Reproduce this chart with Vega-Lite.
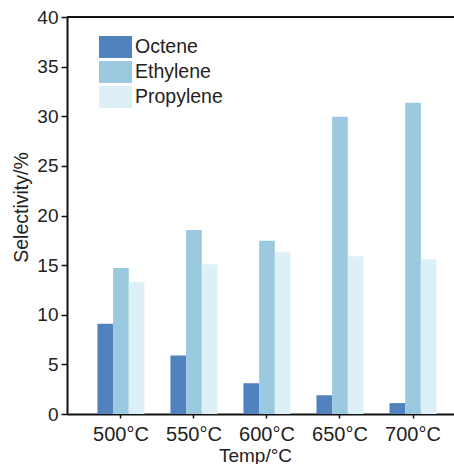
{
  "$schema": "https://vega.github.io/schema/vega-lite/v6.json",
  "autosize": "none",
  "width": 387,
  "height": 397,
  "padding": {"left": 67, "top": 17, "right": 0, "bottom": 50},
  "background": "white",
  "config": {
    "view": {"stroke": null},
    "font": "Liberation Sans",
    "axis": {"grid": false, "domainColor": "#111", "tickColor": "#111", "labelColor": "#222", "titleColor": "#222", "titleFontWeight": "normal"}
  },
  "data": {"values": [
    {"temp": "500°C", "series": "Octene", "value": 9.1},
    {"temp": "500°C", "series": "Ethylene", "value": 14.7},
    {"temp": "500°C", "series": "Propylene", "value": 13.3},
    {"temp": "550°C", "series": "Octene", "value": 5.9},
    {"temp": "550°C", "series": "Ethylene", "value": 18.55},
    {"temp": "550°C", "series": "Propylene", "value": 15.1},
    {"temp": "600°C", "series": "Octene", "value": 3.1},
    {"temp": "600°C", "series": "Ethylene", "value": 17.45},
    {"temp": "600°C", "series": "Propylene", "value": 16.3},
    {"temp": "650°C", "series": "Octene", "value": 1.9},
    {"temp": "650°C", "series": "Ethylene", "value": 29.95},
    {"temp": "650°C", "series": "Propylene", "value": 15.9},
    {"temp": "700°C", "series": "Octene", "value": 1.1},
    {"temp": "700°C", "series": "Ethylene", "value": 31.35},
    {"temp": "700°C", "series": "Propylene", "value": 15.6}
  ]},
  "layer": [
    {
      "mark": {"type": "bar"},
      "encoding": {
        "x": {
          "field": "temp", "type": "nominal", "sort": null,
          "scale": {"paddingInner": 0.356, "paddingOuter": 0.328, "align": 0.635},
          "axis": {"title": "Temp/°C", "labelAngle": 0, "labelFontSize": 20, "titleFontSize": 19, "tickSize": 4, "tickWidth": 1.5, "domainWidth": 2, "labelPadding": 6, "titlePadding": 2, "titleX": 188}
        },
        "xOffset": {"field": "series", "type": "nominal", "sort": ["Octene", "Ethylene", "Propylene"], "scale": {"paddingInner": 0, "paddingOuter": 0}},
        "y": {
          "field": "value", "type": "quantitative",
          "scale": {"domain": [0, 40], "nice": false},
          "axis": {
            "title": "Selectivity/%", "titleFontSize": 19.5, "labelFontSize": 19,
            "values": [0, 2.5, 5, 7.5, 10, 12.5, 15, 17.5, 20, 22.5, 25, 27.5, 30, 32.5, 35, 37.5, 40],
            "labelExpr": "datum.value % 5 === 0 ? datum.label : ''",
            "tickSize": {"condition": {"test": "datum.value % 5 === 0", "value": 6}, "value": 3.5},
            "tickWidth": 1.5, "domainWidth": 2, "labelPadding": 3, "titlePadding": 5, "titleY": 190
          }
        },
        "color": {
          "field": "series", "type": "nominal",
          "scale": {"domain": ["Octene", "Ethylene", "Propylene"], "range": ["#5282bd", "#9bc9e0", "#ddf0f8"]},
          "legend": {
            "title": null, "orient": "none", "legendX": 37.5, "legendY": 19, "padding": 0,
            "symbolType": "M-1.5,-1H1.5V1H-1.5Z", "symbolSize": 484, "symbolStrokeWidth": 0, "symbolOpacity": 1,
            "labelFontSize": 19.5, "labelOffset": 8.5, "rowPadding": 3, "labelColor": "#222"
          }
        }
      }
    },
    {
      "mark": {"type": "rule", "color": "#111", "strokeWidth": 2},
      "encoding": {"y": {"datum": 40}}
    }
  ]
}
